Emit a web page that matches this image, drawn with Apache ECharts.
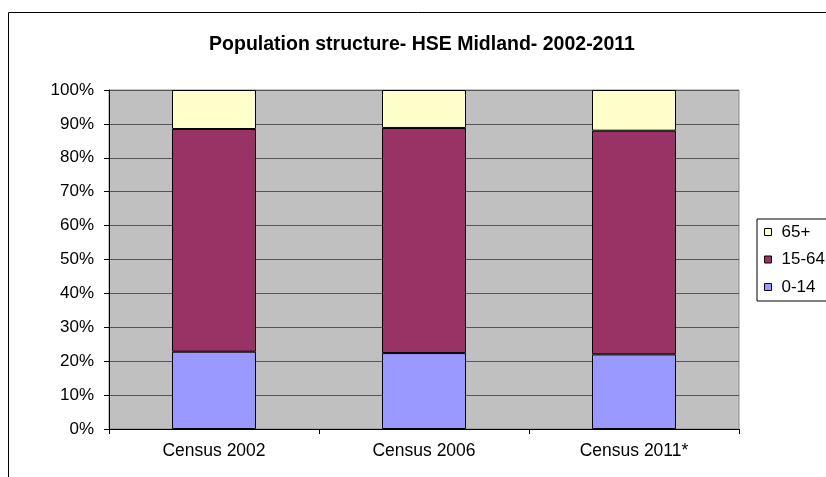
<!DOCTYPE html>
<html><head><meta charset="utf-8">
<script src="https://cdn.jsdelivr.net/npm/echarts@6/dist/echarts.min.js"></script>
<style>html,body{margin:0;padding:0;background:#fff}#c{width:826px;height:477px}</style>
</head><body><div id="c"></div>
<script>
var categories = ['Census 2002', 'Census 2006', 'Census 2011*'];
var age0to14 = [22.8, 22.4, 22.0];
var age15to64 = [65.7, 66.4, 66.0];
var age65plus = [11.5, 11.2, 12.0];
var seriesNames = ['0-14', '15-64', '65+'];
var titleText = 'Population structure- HSE Midland- 2002-2011';

var chart = echarts.init(document.getElementById('c'), null, {renderer: 'canvas'});
var FONT = '"Liberation Sans", Arial, sans-serif';
function bar(name, data, color) {
  return {
    name: name, type: 'bar', stack: 'total', data: data, barWidth: 84,
    itemStyle: {color: color, borderColor: '#000', borderWidth: 1},
    emphasis: {disabled: true}
  };
}
chart.setOption({
  animation: false,
  backgroundColor: '#fff',
  textStyle: {fontFamily: FONT},
  graphic: [{
    type: 'rect', left: 6, top: 10, silent: true, z: -10,
    shape: {width: 900, height: 600},
    style: {fill: 'none', stroke: '#000', lineWidth: 1}
  }],
  title: {
    text: titleText, left: 417, top: 30, textAlign: 'center',
    textStyle: {fontFamily: FONT, fontSize: 19.5, fontWeight: 'bold', color: '#000'}
  },
  legend: {
    orient: 'vertical', left: 757, top: 219,
    data: ['65+', '15-64', '0-14'],
    icon: 'rect', itemWidth: 7, itemHeight: 7, itemGap: 10.5,
    padding: [4.5, 60, 5.5, 7],
    backgroundColor: '#fff', borderColor: '#000', borderWidth: 1,
    textStyle: {fontFamily: FONT, fontSize: 17, color: '#000', padding: [0, 0, 0, 5]},
    itemStyle: {borderColor: '#000', borderWidth: 1}
  },
  grid: {
    left: 109, top: 90, width: 630, height: 339, show: true,
    backgroundColor: '#C0C0C0', borderColor: '#8a8a8a', borderWidth: 1
  },
  xAxis: {
    type: 'category', data: categories, boundaryGap: true,
    axisLine: {lineStyle: {color: '#000', width: 1}},
    axisTick: {show: true, length: 5, lineStyle: {color: '#000'}},
    axisLabel: {fontFamily: FONT, fontSize: 17.5, color: '#000', margin: 13}
  },
  yAxis: {
    type: 'value', min: 0, max: 100, interval: 10,
    axisLine: {show: true, lineStyle: {color: '#000', width: 1}},
    axisTick: {show: true, length: 5, lineStyle: {color: '#000'}},
    axisLabel: {fontFamily: FONT, fontSize: 17, color: '#000', margin: 15, formatter: '{value}%'},
    splitLine: {show: true, lineStyle: {color: '#555', width: 1}}
  },
  series: [
    bar(seriesNames[0], age0to14, '#9999FF'),
    bar(seriesNames[1], age15to64, '#993366'),
    bar(seriesNames[2], age65plus, '#FFFFCC')
  ]
});
</script>
</body></html>
